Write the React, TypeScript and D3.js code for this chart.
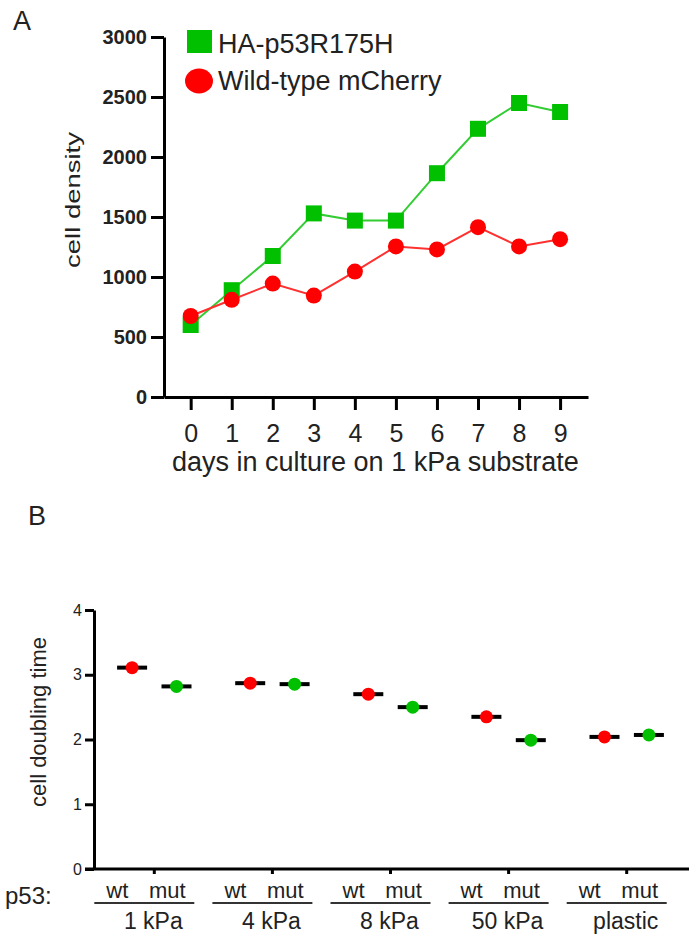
import * as d3 from 'd3'
import React, { useEffect, useRef } from 'react'

// panel A: growth curves
const days = [0, 1, 2, 3, 4, 5, 6, 7, 8, 9]
const mutantDensity = [600, 890, 1175, 1530, 1470, 1470, 1865, 2235, 2450, 2375]
const wildTypeDensity = [675, 810, 945, 845, 1045, 1255, 1230, 1415, 1255, 1315]
const densityTicks = [0, 500, 1000, 1500, 2000, 2500, 3000]

// panel B: doubling time per substrate
const substrates = ['1 kPa', '4 kPa', '8 kPa', '50 kPa', 'plastic']
const genotypes = ['wt', 'mut']
const wtDoubling = [3.11, 2.87, 2.7, 2.35, 2.04]
const mutDoubling = [2.82, 2.855, 2.5, 1.99, 2.07]
const doublingTicks = [0, 1, 2, 3, 4]

const W = 689
const H = 936
const FONT = '"Liberation Sans", Arial, sans-serif'
const GREEN = '#00c000'
const GREEN_LINE = '#33cc33'
const RED = '#ff0000'
const TEXT = '#222'

const styleAxis = (g, width = 3) => {
  g.selectAll('.domain').attr('stroke', '#000').attr('stroke-width', width)
  g.selectAll('.tick line').attr('stroke', '#000').attr('stroke-width', width)
  g.selectAll('.tick text').attr('fill', TEXT).attr('font-family', FONT)
}

export default function App() {
  const axesA = useRef(null)
  const axesB = useRef(null)

  // A scales
  const xA = d3.scaleLinear().domain([-0.65, 9.68]).range([164, 588])
  const yA = d3.scaleLinear().domain([0, 3000]).range([397, 37])

  // B scales
  const xGroup = d3.scalePoint().domain(substrates).range([154.3, 626.7])
  const xInGroup = d3.scalePoint().domain(genotypes).range([-22.2, 22.2])
  const yB = d3.scaleLinear().domain([0, 4]).range([869, 610])

  const seriesLine = d3
    .line()
    .x((d, i) => xA(days[i]))
    .y(d => yA(d))

  useEffect(() => {
    const a = d3.select(axesA.current)
    a.selectAll('*').remove()

    const yAxis = a
      .append('g')
      .attr('transform', `translate(${xA.range()[0]},0)`)
      .call(
        d3
          .axisLeft(yA)
          .tickValues(densityTicks)
          .tickFormat(d3.format('d'))
          .tickSize(13)
          .tickSizeOuter(0)
          .tickPadding(4)
      )
    styleAxis(yAxis)
    yAxis.selectAll('.tick text').attr('font-size', 20).attr('font-weight', 'bold')

    const xAxis = a
      .append('g')
      .attr('transform', `translate(0,${yA(0)})`)
      .call(d3.axisBottom(xA).tickValues(days).tickFormat(d3.format('d')).tickSize(13).tickSizeOuter(0).tickPadding(14))
    styleAxis(xAxis)
    xAxis.selectAll('.tick text').attr('font-size', 25)

    const b = d3.select(axesB.current)
    b.selectAll('*').remove()

    const yAxisB = b
      .append('g')
      .attr('transform', 'translate(94,0)')
      .call(
        d3
          .axisLeft(yB)
          .tickValues(doublingTicks)
          .tickFormat(d3.format('d'))
          .tickSize(9)
          .tickSizeOuter(0)
          .tickPadding(3)
      )
    styleAxis(yAxisB)
    yAxisB.selectAll('.tick text').attr('font-size', 16)

    // x axis of B runs to the edge of the picture
    b.append('line')
      .attr('x1', 85)
      .attr('x2', W)
      .attr('y1', yB(0))
      .attr('y2', yB(0))
      .attr('stroke', '#000')
      .attr('stroke-width', 3)
    b.selectAll('.group-tick')
      .data(substrates)
      .join('line')
      .attr('class', 'group-tick')
      .attr('x1', d => xGroup(d))
      .attr('x2', d => xGroup(d))
      .attr('y1', yB(0))
      .attr('y2', yB(0) + 5)
      .attr('stroke', '#000')
      .attr('stroke-width', 3)
  }, [])

  const doublingPoints = substrates.flatMap((s, i) => [
    { substrate: s, genotype: 'wt', value: wtDoubling[i], color: RED },
    { substrate: s, genotype: 'mut', value: mutDoubling[i], color: GREEN },
  ])

  return (
    <svg
      width={W}
      height={H}
      style={{ position: 'absolute', left: 0, top: 0, background: '#fff' }}
      fontFamily={FONT}
    >
      {/* ---------- panel A ---------- */}
      <text x={13} y={30} fontSize={27} fill={TEXT}>
        A
      </text>
      <g ref={axesA} />
      <text
        transform="translate(80,200) rotate(-90)"
        textAnchor="middle"
        fontSize={21}
        fill={TEXT}
        textLength={136}
        lengthAdjust="spacingAndGlyphs"
      >
        cell density
      </text>
      <text x={(xA(0) + xA(9)) / 2} y={471} textAnchor="middle" fontSize={27} fill={TEXT}>
        days in culture on 1 kPa substrate
      </text>

      <path d={seriesLine(mutantDensity)} fill="none" stroke={GREEN_LINE} strokeWidth={2} />
      <path d={seriesLine(wildTypeDensity)} fill="none" stroke="#ff3030" strokeWidth={2} />
      {mutantDensity.map((v, i) => (
        <rect key={'m' + i} x={xA(days[i]) - 8} y={yA(v) - 8} width={16} height={16} fill={GREEN} />
      ))}
      {wildTypeDensity.map((v, i) => (
        <circle key={'w' + i} cx={xA(days[i])} cy={yA(v)} r={8} fill={RED} />
      ))}

      {/* legend */}
      <rect x={187} y={30} width={25} height={23} fill={GREEN} />
      <text x={218} y={53} fontSize={27} fill={TEXT}>
        HA-p53R175H
      </text>
      <ellipse cx={199} cy={81} rx={14} ry={12.5} fill={RED} />
      <text x={218} y={90} fontSize={27} fill={TEXT}>
        Wild-type mCherry
      </text>

      {/* ---------- panel B ---------- */}
      <text x={28} y={525} fontSize={27} fill={TEXT}>
        B
      </text>
      <g ref={axesB} />
      <text
        transform="translate(46,722) rotate(-90)"
        textAnchor="middle"
        fontSize={22}
        fill={TEXT}
      >
        cell doubling time
      </text>

      {doublingPoints.map((d, i) => {
        const cx = xGroup(d.substrate) + xInGroup(d.genotype)
        return (
          <g key={'d' + i}>
            <line x1={cx - 15} x2={cx + 15} y1={yB(d.value)} y2={yB(d.value)} stroke="#000" strokeWidth={4} />
            <circle cx={cx} cy={yB(d.value)} r={6.5} fill={d.color} />
          </g>
        )
      })}

      <text x={5} y={904} fontSize={24} fill={TEXT}>
        p53:
      </text>
      {substrates.map(s => {
        const c = xGroup(s)
        return (
          <g key={s}>
            <text x={c - 37} y={898} textAnchor="middle" fontSize={22} fill={TEXT}>
              wt
            </text>
            <text x={c + 13} y={898} textAnchor="middle" fontSize={22} fill={TEXT}>
              mut
            </text>
            <line x1={c - 60} x2={c + 40} y1={903} y2={903} stroke="#333" strokeWidth={2} />
            <text x={c - 1} y={929} textAnchor="middle" fontSize={23} fill={TEXT}>
              {s}
            </text>
          </g>
        )
      })}
    </svg>
  )
}
